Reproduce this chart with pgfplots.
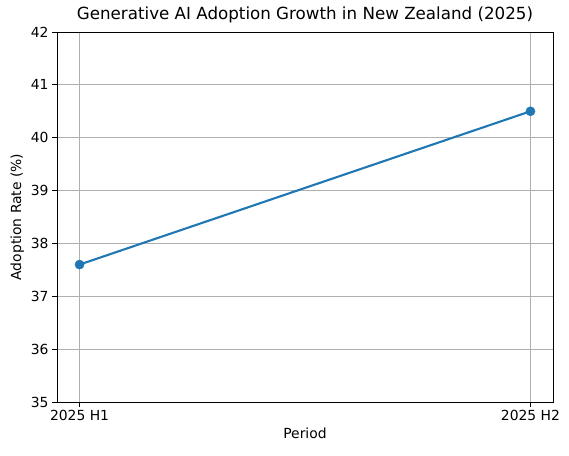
\documentclass[border=0pt]{standalone}
\usepackage{fontspec}
\setmainfont{DejaVu Sans}
\usepackage{pgfplots}
\pgfplotsset{compat=1.18}
\definecolor{mplblue}{HTML}{1F77B4}
\definecolor{mplgrid}{HTML}{B0B0B0}
\begin{document}
\begin{tikzpicture}
\useasboundingbox (-57pt,-53pt) rectangle (512pt,402pt);
\begin{axis}[
  scale only axis, width=496pt, height=370pt,
  xmin=-0.05, xmax=1.05, ymin=35, ymax=42,
  xtick={0,1}, xticklabels={2025 H1, 2025 H2},
  ytick={35,36,...,42},
  grid=major, grid style={mplgrid, line width=1.0pt},
  axis line style={line width=0.9pt},
  tick style={black, line width=0.9pt},
  tick align=outside, major tick length=4.9pt,
  xtick pos=bottom, ytick pos=left,
  /pgf/number format/assume math mode=true,
  ticklabel style={font=\fontsize{13.9}{16}\selectfont},
  label style={font=\fontsize{13.9}{16}\selectfont},
  title style={font=\fontsize{16.7}{19}\selectfont, yshift=-1pt},
  title={Generative AI Adoption Growth in New Zealand (2025)},
  xlabel={Period}, ylabel={Adoption Rate (\%)},
]
\addplot[mplblue, line width=2.1pt, mark=*, mark size=4.6pt, mark options={solid, fill=mplblue, draw=mplblue, line width=0.4pt}] coordinates {
(0, 37.6)
(1, 40.5)
};
\end{axis}
\end{tikzpicture}
\end{document}
